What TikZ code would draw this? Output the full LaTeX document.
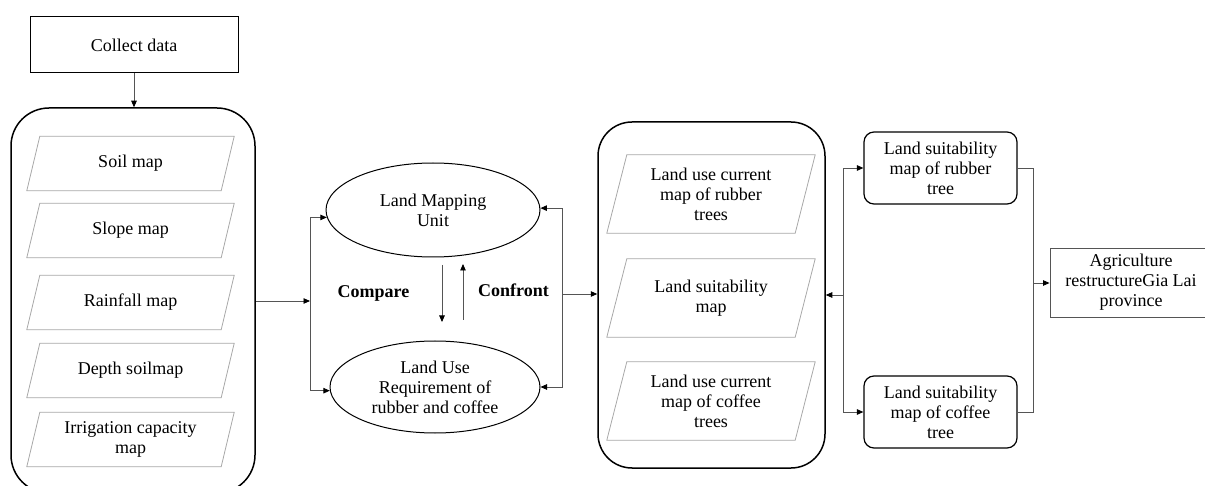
\documentclass[tikz,border=0pt]{standalone}
\usepackage{fontspec}
\setmainfont{Liberation Serif}
\usetikzlibrary{shapes.geometric,arrows.meta,calc}
\definecolor{cgray}{HTML}{555555}
\definecolor{lgray}{HTML}{A8A8A8}
\newcommand\parashape[2]{\draw[parab] ([xshift=-#2]#1.south west) -- ([xshift=-#2]#1.south east) -- ([xshift=#2]#1.north east) -- ([xshift=#2]#1.north west) -- cycle;}
\begin{document}
\begin{tikzpicture}[x=1pt,y=-1pt,
  font=\fontsize{18}{20}\selectfont,
  arr/.style={draw=cgray, line width=0.9pt, -{Triangle[length=6.5pt,width=5.5pt,color=black,fill=black]}},
  conn/.style={draw=cgray, line width=0.9pt},
  container/.style={draw=black, line width=1.5pt, rounded corners=38pt, inner sep=0},
  paraL/.style={minimum width=194pt, minimum height=54pt, inner sep=0, align=center},
  paraM/.style={minimum width=188pt, minimum height=78pt, inner sep=0, align=center},
  parab/.style={draw=lgray, line width=0.8pt},
  oval/.style={ellipse, draw=black, line width=1pt, inner sep=0, align=center},
  sbox/.style={draw=black, line width=1.2pt, rounded corners=10pt, minimum width=153pt, minimum height=72pt, inner sep=0, align=center},
  lbl/.style={font=\fontsize{18}{20}\selectfont\bfseries}
]
\useasboundingbox (0,0) rectangle (1205,486);

% collect
\node[draw=black, line width=1pt, minimum width=208pt, minimum height=56pt] (collect) at (134,45) {Collect data};

% left container
\node[container, minimum width=244pt, minimum height=385pt] (left) at (133,300.5) {};
\node[paraL] (p1) at (130.5,163.5) {Soil map};
\node[paraL] (p2) at (130.5,230.5) {Slope map};
\node[paraL] (p3) at (130.5,302.5) {Rainfall map};
\node[paraL] (p4) at (130.5,370.5) {Depth soilmap};
\node[paraL] (p5) at (130.5,439.5) {Irrigation capacity\\map};
\foreach \n in {p1,p2,p3,p4,p5} {\parashape{\n}{6.5pt}}

% ellipses
\node[oval, minimum width=214pt, minimum height=94pt] (lmu) at (433,210) {Land Mapping\\Unit};
\node[oval, minimum width=210pt, minimum height=92pt] (lur) at (435,387) {Land Use\\Requirement of\\rubber and coffee};

\node[lbl] (cmp) at (373.5,293) {Compare};
\node[lbl] (cft) at (513.5,290) {Confront};
\coordinate (d1) at (442,265);
\coordinate (d2) at (442,322);
\coordinate (u1) at (463,320);
\coordinate (u2) at (463,264);
\draw[arr] (d1) -- (d2);
\draw[arr] (u1) -- (u2);

% middle container
\node[container, rounded corners=34pt, minimum width=227pt, minimum height=346pt] (mid) at (711.5,295) {};
\node[paraM] (m1) at (711,194) {Land use current\\map of rubber\\trees};
\node[paraM] (m2) at (711,298) {Land suitability\\map};
\node[paraM] (m3) at (711,401) {Land use current\\map of coffee\\trees};
\foreach \n in {m1,m2,m3} {\parashape{\n}{10pt}}

% right boxes
\node[sbox] (rub) at (940.5,168) {Land suitability\\map of rubber\\tree};
\node[sbox] (cof) at (940.5,412) {Land suitability\\map of coffee\\tree};
\node[draw=cgray, line width=0.9pt, minimum width=162pt, minimum height=69pt, inner sep=0, align=center] (agr) at (1131,282.5) {Agriculture\\restructureGia Lai\\province};

% connectors
\draw[arr] (collect.south) -- (collect.south |- left.north);

\coordinate (jl) at (310,301);
\draw[arr] (left.east |- jl) -- (jl);
\draw[arr] (jl) |- (lmu.184);
\draw[arr] (jl) |- (lur.182);

\coordinate (jr) at (562,294);
\draw[arr] (jr) |- (lmu.1);
\draw[arr] (jr) |- (lur.0);
\draw[arr] (jr) -- (mid.west |- jr);

\coordinate (jm) at (843,295);
\draw[arr] (jm) -- (mid.east |- jm);
\draw[arr] (jm) |- (rub.west);
\draw[arr] (jm) |- (cof.west);

\coordinate (ja) at (1033,283);
\draw[conn] (rub.east) -| (ja) |- (cof.east);
\draw[arr] (ja) -- (agr.west |- ja);
\end{tikzpicture}
\end{document}
